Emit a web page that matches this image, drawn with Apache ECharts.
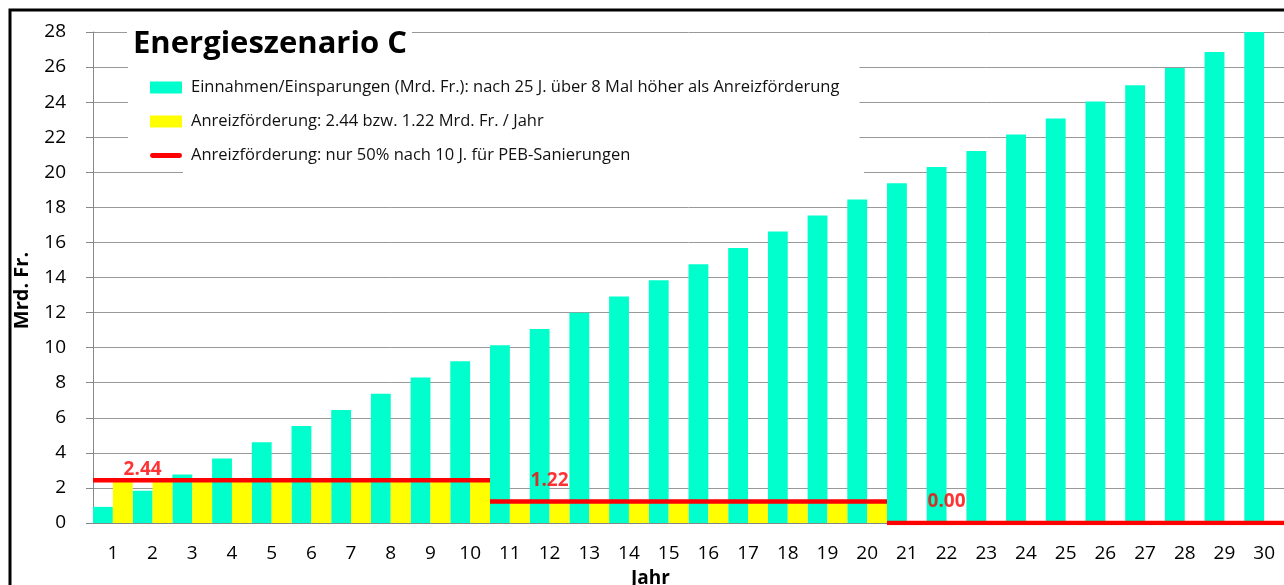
<!DOCTYPE html>
<html>
<head>
<meta charset="utf-8">
<script src="https://cdn.jsdelivr.net/npm/echarts@6/dist/echarts.min.js"></script>
<style>
  html, body { margin: 0; padding: 0; background: #fff; }
  #chart { width: 1284px; height: 585px; }
</style>
</head>
<body>
<div id="chart"></div>
<script>
var chart = echarts.init(document.getElementById('chart'));

// Jahre 1..30
var years = [];
for (var i = 1; i <= 30; i++) years.push(String(i));

// Einnahmen/Einsparungen (Mrd. Fr.)
var einnahmen = [0.92, 1.84, 2.76, 3.68, 4.61, 5.53, 6.45, 7.37, 8.30, 9.22,
                 10.14, 11.07, 11.99, 12.91, 13.84, 14.76, 15.68, 16.62, 17.53, 18.45,
                 19.38, 20.30, 21.22, 22.15, 23.07, 24.03, 24.97, 25.94, 26.86, 28.0];

// Anreizförderung pro Jahr
var foerderung = [2.44, 2.44, 2.44, 2.44, 2.44, 2.44, 2.44, 2.44, 2.44, 2.44,
                  1.22, 1.22, 1.22, 1.22, 1.22, 1.22, 1.22, 1.22, 1.22, 1.22,
                  0, 0, 0, 0, 0, 0, 0, 0, 0, 0];

// Stufen der roten Linie
var stufeVon = [0, 10, 20];
var stufeBis = [10, 20, 30];
var stufeWert = [2.44, 1.22, 0];
var labelX = [1.25, 11.5, 21.5];
var labelGap = [1, 12, 12];

var stufenData = [];
var labelData = [];
for (var s = 0; s < stufeWert.length; s++) {
    if (s > 0) stufenData.push([stufeVon[s], '-']);
    stufenData.push([stufeVon[s], stufeWert[s]]);
    stufenData.push([stufeBis[s], stufeWert[s]]);
    labelData.push({ value: [labelX[s], stufeWert[s]], label: { distance: labelGap[s] } });
}

var nameTeal = 'Einnahmen/Einsparungen (Mrd. Fr.): nach 25 J. über 8 Mal höher als Anreizförderung';
var nameGelb = 'Anreizförderung: 2.44 bzw. 1.22 Mrd. Fr. / Jahr';
var nameRot = 'Anreizförderung: nur 50% nach 10 J. für PEB-Sanierungen';

var font = '"Open Sans", Lato, sans-serif';

var option = {
    backgroundColor: '#fff',
    animation: false,
    textStyle: { fontFamily: font },
    title: {
        text: 'Energieszenario C',
        left: 127,
        top: 25,
        padding: [4, 5, 4, 6],
        backgroundColor: '#fff',
        textStyle: { fontSize: 31, fontWeight: 'bold', color: '#000', fontFamily: font }
    },
    legend: {
        orient: 'vertical',
        left: 128,
        top: 60,
        padding: [19, 20, 8, 22],
        itemGap: 17,
        itemWidth: 32,
        itemHeight: 12,
        backgroundColor: '#fff',
        textStyle: { fontSize: 16.5, color: '#111', fontFamily: font, padding: [0, 0, 0, 4] },
        data: [
            { name: nameTeal, icon: 'rect' },
            { name: nameGelb, icon: 'rect' },
            { name: nameRot, icon: 'path://M0,0M32,12M2,3.5H30A2.5,2.5,0,0,1,30,8.5H2A2.5,2.5,0,0,1,2,3.5Z' }
        ]
    },
    graphic: [
        { type: 'rect', z: 3, shape: { x: 183, y: 164, width: 681, height: 14 }, style: { fill: '#fff' } },
        { type: 'rect', z: 10, shape: { x: 10, y: 10, width: 1300, height: 600 },
          style: { fill: 'none', stroke: '#000', lineWidth: 3 } }
    ],
    grid: { left: 93, right: 0, top: 32, bottom: 62, outerBoundsMode: 'none', containLabel: false },
    xAxis: [{
        type: 'category',
        data: years,
        name: 'Jahr',
        nameLocation: 'middle',
        nameGap: 46,
        nameTextStyle: { fontSize: 19, fontWeight: 'bold', color: '#000', padding: [0, 76, 0, 0] },
        axisLine: { lineStyle: { color: '#888' } },
        axisTick: { length: 6, lineStyle: { color: '#888' } },
        axisLabel: { fontSize: 19, color: '#000', margin: 21, interval: 0 }
    }, {
        type: 'value',
        min: 0,
        max: 30,
        show: false
    }],
    yAxis: {
        type: 'value',
        min: 0,
        max: 28,
        interval: 2,
        name: 'Mrd. Fr.',
        nameLocation: 'middle',
        nameGap: 61,
        nameTextStyle: { fontSize: 20, fontWeight: 'bold', color: '#000', padding: [0, 26, 0, 0] },
        axisLine: { show: true, lineStyle: { color: '#888' } },
        axisTick: { show: true, length: 7, lineStyle: { color: '#888' } },
        axisLabel: { fontSize: 19, color: '#000', margin: 27 },
        splitLine: { lineStyle: { color: '#999' } }
    },
    series: [{
        name: nameTeal,
        type: 'bar',
        data: einnahmen,
        barGap: '0%',
        barCategoryGap: '0%',
        itemStyle: { color: '#00FFCC' }
    }, {
        name: nameGelb,
        type: 'bar',
        data: foerderung,
        barGap: '0%',
        barCategoryGap: '0%',
        itemStyle: { color: '#FFFF00' }
    }, {
        name: nameRot,
        type: 'line',
        xAxisIndex: 1,
        data: stufenData,
        symbol: 'none',
        z: 4,
        lineStyle: { color: '#FF0000', width: 4.5, cap: 'butt' },
        itemStyle: { color: '#FF0000' }
    }, {
        name: 'labels',
        type: 'scatter',
        xAxisIndex: 1,
        data: labelData,
        symbolSize: 0,
        z: 6,
        label: {
            show: true,
            position: 'top',
            color: '#FF0000',
            fontSize: 19,
            fontWeight: 'bold',
            formatter: function (p) { return p.value[1].toFixed(2); }
        }
    }]
};

chart.setOption(option);
</script>
</body>
</html>
